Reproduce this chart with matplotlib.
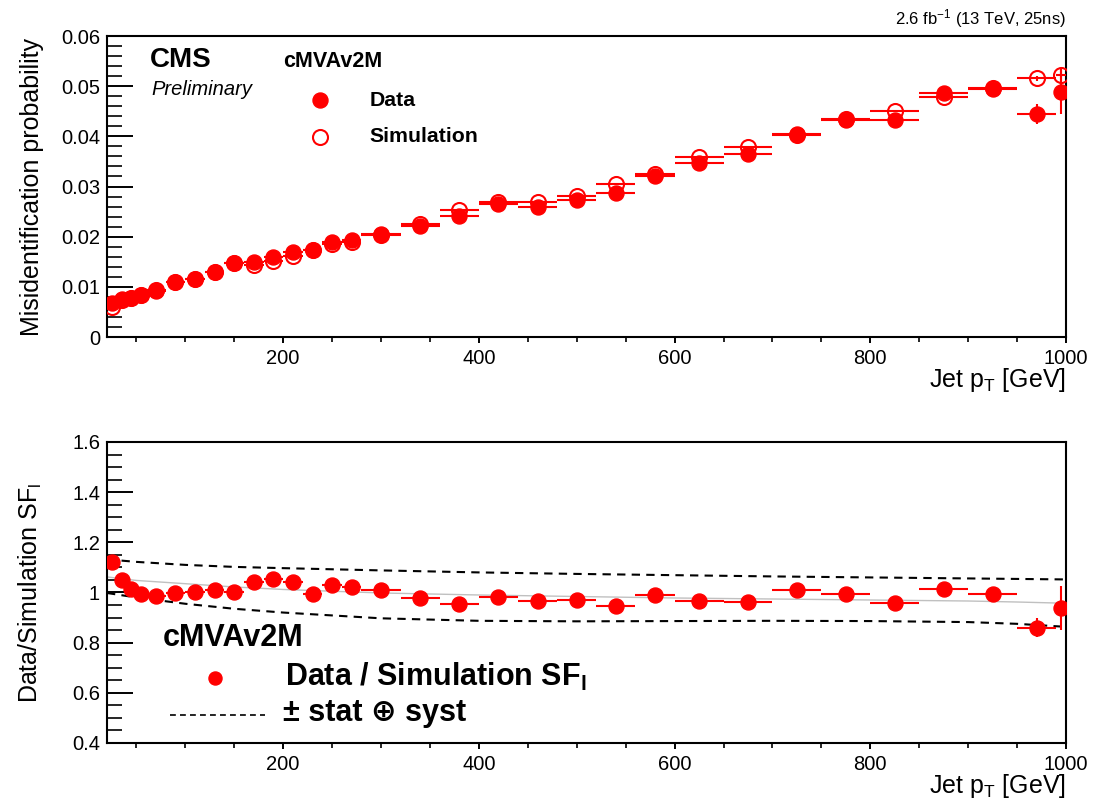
import numpy as np
import matplotlib
matplotlib.use("Agg")
import matplotlib.pyplot as plt
from matplotlib.ticker import MultipleLocator, FuncFormatter

plt.rcParams["font.family"] = ["Liberation Sans", "DejaVu Sans"]
plt.rcParams["mathtext.fontset"] = "custom"
plt.rcParams["mathtext.rm"] = "Liberation Sans"
plt.rcParams["mathtext.it"] = "Liberation Sans:italic"
plt.rcParams["mathtext.bf"] = "Liberation Sans:bold"

# pT binning (GeV)
pt_edges = [20, 30, 40, 50, 60, 80, 100, 120, 140, 160, 180, 200, 220, 240, 260,
            280, 320, 360, 400, 440, 480, 520, 560, 600, 650, 700, 750, 800, 850,
            900, 950, 990, 1000]

# misidentification probability
eff_data = [0.0067, 0.0076, 0.0078, 0.0084, 0.0092, 0.0110, 0.0115, 0.0130, 0.0147,
            0.0150, 0.0160, 0.0169, 0.0173, 0.0190, 0.0193, 0.0205, 0.0221, 0.0242,
            0.0265, 0.0260, 0.0274, 0.0288, 0.0320, 0.0346, 0.0365, 0.0405, 0.0433,
            0.0433, 0.0486, 0.0494, 0.0444, 0.0488]
eff_data_err = [0.0002, 0.0002, 0.0002, 0.0002, 0.0002, 0.0002, 0.0002, 0.0002, 0.0002,
                0.0002, 0.0002, 0.0002, 0.0002, 0.0002, 0.0002, 0.0002, 0.0003, 0.0003,
                0.0003, 0.0003, 0.0003, 0.0004, 0.0004, 0.0004, 0.0005, 0.0005, 0.0006,
                0.0006, 0.0007, 0.0008, 0.0020, 0.0044]
eff_sim = [0.0060, 0.0073, 0.0077, 0.0084, 0.0093, 0.0110, 0.0115, 0.0129, 0.0147,
           0.0144, 0.0152, 0.0162, 0.0174, 0.0185, 0.0189, 0.0203, 0.0226, 0.0254,
           0.0270, 0.0269, 0.0282, 0.0304, 0.0324, 0.0358, 0.0379, 0.0402, 0.0435,
           0.0451, 0.0479, 0.0496, 0.0516, 0.0522]
eff_sim_err = [0.0001] * 30 + [0.0005, 0.0012]

# data / simulation scale factor
sf = [1.123, 1.048, 1.014, 0.995, 0.987, 0.998, 1.003, 1.011, 1.002, 1.040, 1.055,
      1.042, 0.995, 1.028, 1.020, 1.011, 0.977, 0.954, 0.982, 0.968, 0.971, 0.948,
      0.988, 0.967, 0.964, 1.008, 0.995, 0.960, 1.015, 0.995, 0.860, 0.938]
sf_err = [0.008] * 30 + [0.037, 0.088]

# fitted SF and stat+syst envelope
band_pt = [20, 50, 100, 150, 200, 300, 400, 500, 600, 700, 800, 900, 950, 1000]
band_central = [1.062, 1.048, 1.035, 1.022, 1.012, 0.998, 0.990, 0.984, 0.978,
                0.974, 0.970, 0.966, 0.962, 0.957]
band_up = [1.132, 1.122, 1.110, 1.102, 1.097, 1.088, 1.080, 1.074, 1.069, 1.064,
           1.060, 1.056, 1.054, 1.052]
band_down = [0.998, 0.980, 0.955, 0.935, 0.920, 0.897, 0.887, 0.885, 0.886, 0.887,
             0.886, 0.882, 0.875, 0.863]

edges = np.array(pt_edges, dtype=float)
pt = (edges[:-1] + edges[1:]) / 2
xerr = [pt - edges[:-1], edges[1:] - pt]

RED = "#ff0000"
MS = 10.8

fig = plt.figure(figsize=(11.03, 8.02), dpi=100)
ax1 = fig.add_axes([0.097, 0.5798, 0.8695, 0.3753])
ax2 = fig.add_axes([0.097, 0.0736, 0.8695, 0.3753])


def style_axis(ax):
    for sp in ax.spines.values():
        sp.set_linewidth(1.5)
    ax.xaxis.set_major_locator(MultipleLocator(200))
    ax.xaxis.set_minor_locator(MultipleLocator(50))
    ax.tick_params(axis="y", which="major", direction="in", length=19, width=1.4,
                   labelsize=14.5, pad=5)
    ax.tick_params(axis="y", which="minor", direction="in", length=11, width=1.2)
    ax.tick_params(axis="x", which="major", direction="out", length=4.5, width=1.4,
                   labelsize=14.5, pad=4)
    ax.tick_params(axis="x", which="minor", direction="out", length=3.5, width=1.2)
    ax.set_xlim(20, 1000)
    ax.set_xlabel(r"Jet p$_{\mathrm{T}}$ [GeV]", fontsize=18, ha="right")
    ax.xaxis.set_label_coords(1.0, -0.097)


# top panel
ax1.errorbar(pt, eff_sim, xerr=xerr, yerr=eff_sim_err, fmt="o", color=RED, ms=MS,
             mfc="none", mec=RED, mew=1.5, elinewidth=1.5, capsize=0, zorder=3)
ax1.errorbar(pt, eff_data, xerr=xerr, yerr=eff_data_err, fmt="o", color=RED, ms=MS,
             elinewidth=1.5, capsize=0, zorder=4)
style_axis(ax1)
ax1.set_ylim(0, 0.06)
ax1.yaxis.set_major_locator(MultipleLocator(0.01))
ax1.yaxis.set_minor_locator(MultipleLocator(0.002))
ax1.yaxis.set_major_formatter(FuncFormatter(lambda v, p: "0" if abs(v) < 1e-9 else f"{v:.2f}"))
ax1.set_ylabel("Misidentification probability", fontsize=18)
ax1.yaxis.set_label_coords(-0.066, 0.5)

ax1.text(0.045, 0.920, "CMS", transform=ax1.transAxes, fontsize=20,
         fontweight="bold", va="center")
ax1.text(0.046, 0.821, "Preliminary", transform=ax1.transAxes, fontsize=14.5,
         style="italic", va="center")
ax1.text(0.1835, 0.914, "cMVAv2M", transform=ax1.transAxes, fontsize=15.5,
         fontweight="bold", va="center")
ax1.plot([0.222], [0.787], "o", color=RED, ms=MS, transform=ax1.transAxes, clip_on=False)
ax1.text(0.274, 0.787, "Data", transform=ax1.transAxes, fontsize=15.3,
         fontweight="bold", va="center")
ax1.plot([0.222], [0.6645], "o", mfc="none", mec=RED, mew=1.5, ms=MS,
         transform=ax1.transAxes, clip_on=False)
ax1.text(0.274, 0.6645, "Simulation", transform=ax1.transAxes, fontsize=15.3,
         fontweight="bold", va="center")
fig.text(0.9665, 0.977, r"2.6 fb$^{-1}$ (13 TeV, 25ns)", fontsize=12,
         ha="right", va="center")

# bottom panel
ax2.plot(band_pt, band_central, color="#c0c0c0", lw=1.0, zorder=2)
ax2.plot(band_pt, band_up, color="black", lw=1.5, ls=(0, (4, 3)), zorder=2)
ax2.plot(band_pt, band_down, color="black", lw=1.5, ls=(0, (4, 3)), zorder=2)
ax2.errorbar(pt, sf, xerr=xerr, yerr=sf_err, fmt="o", color=RED, ms=MS,
             elinewidth=1.5, capsize=0, zorder=4)
style_axis(ax2)
ax2.set_ylim(0.4, 1.6)
ax2.yaxis.set_major_locator(MultipleLocator(0.2))
ax2.yaxis.set_minor_locator(MultipleLocator(0.05))
ax2.yaxis.set_major_formatter(FuncFormatter(lambda v, p: f"{v:g}"))
ax2.set_ylabel(r"Data/Simulation SF$_{\mathrm{l}}$", fontsize=18)
ax2.yaxis.set_label_coords(-0.066, 0.5)

ax2.text(0.058, 0.349, "cMVAv2M", transform=ax2.transAxes, fontsize=22,
         fontweight="bold", va="center")
ax2.plot([0.1126], [0.216], "o", color=RED, ms=9.4, transform=ax2.transAxes)
ax2.text(0.1856, 0.219, r"Data / Simulation SF$_{\mathbf{l}}$", transform=ax2.transAxes,
         fontsize=22, fontweight="bold", va="center")
ax2.plot([0.0657, 0.1648], [0.093, 0.093], color="black", lw=1.2, ls=(0, (3.5, 2.5)),
         transform=ax2.transAxes)
ax2.text(0.1835, 0.0997, "\u00b1 stat \u2295 syst", transform=ax2.transAxes,
         fontsize=22, fontweight="bold", va="center")

fig.savefig("out.png", dpi=100)
